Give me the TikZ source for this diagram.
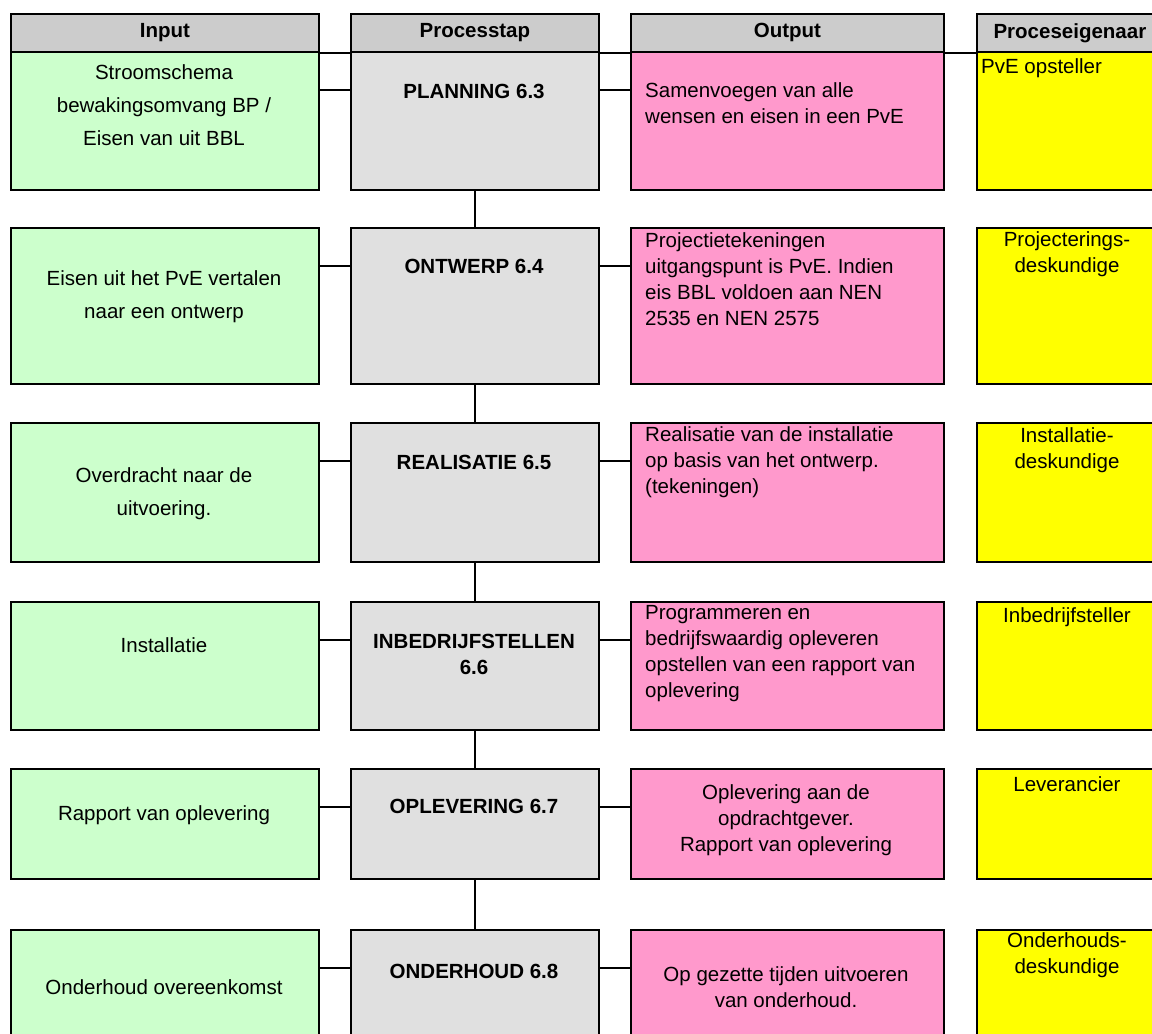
\documentclass[tikz,border=0pt]{standalone}
\usepackage{fontspec}
\setmainfont{Liberation Sans}
\usetikzlibrary{calc}
\definecolor{hdrgray}{HTML}{CCCCCC}
\definecolor{procgray}{HTML}{E0E0E0}
\definecolor{ingreen}{HTML}{CCFFCC}
\definecolor{outpink}{HTML}{FF99CC}
\definecolor{ownyellow}{HTML}{FFFF00}
\tikzset{
 cell/.style={draw=black, line width=1.8pt, rectangle, inner sep=0pt, anchor=north west},
 hdr/.style={cell, fill=hdrgray, minimum height=38pt},
 inb/.style={cell, fill=ingreen, minimum width=308pt},
 prb/.style={cell, fill=procgray, minimum width=248pt},
 outb/.style={cell, fill=outpink, minimum width=313pt},
 ownb/.style={cell, fill=ownyellow, minimum width=186pt},
 txt/.style={font=\fontsize{20.5}{26}\selectfont, inner sep=0pt, align=center},
 wtxt/.style={font=\fontsize{20.5}{33}\selectfont, inner sep=0pt, align=center},
 ltxt/.style={txt, align=left, anchor=west},
 btxt/.style={inner sep=0pt, align=center, font=\fontsize{20.5}{26}\selectfont\bfseries},
 conn/.style={line width=1.8pt},
}
\begin{document}
\begin{tikzpicture}[x=1pt,y=-1pt]
\useasboundingbox (0,0) rectangle (1152,1034);
\clip (0,0) rectangle (1152,1034);
% header cells
\node[hdr, minimum width=308pt] (hin) at (10,13) {};
\node[hdr, minimum width=248pt] (hpr) at (350,13) {};
\node[hdr, minimum width=313pt] (hout) at (630,13) {};
\node[hdr, minimum width=186pt] (hown) at (976,13) {};
\node[btxt] (thin) at (hin.center) {Input};
\node[btxt] (thpr) at (hpr.center) {Processtap};
\node[btxt] (thout) at (hout.center) {Output};
\node[btxt] (thown) at (hown.center) {Proceseigenaar};
% row 1
\node[inb, minimum height=138pt] (in1) at (10,51) {};
\node[prb, minimum height=138pt] (pr1) at (350,51) {};
\node[outb, minimum height=138pt] (out1) at (630,51) {};
\node[ownb, minimum height=138pt] (own1) at (976,51) {};
% row 2
\node[inb, minimum height=156pt] (in2) at (10,227) {};
\node[prb, minimum height=156pt] (pr2) at (350,227) {};
\node[outb, minimum height=156pt] (out2) at (630,227) {};
\node[ownb, minimum height=156pt] (own2) at (976,227) {};
% row 3
\node[inb, minimum height=139pt] (in3) at (10,422) {};
\node[prb, minimum height=139pt] (pr3) at (350,422) {};
\node[outb, minimum height=139pt] (out3) at (630,422) {};
\node[ownb, minimum height=139pt] (own3) at (976,422) {};
% row 4
\node[inb, minimum height=128pt] (in4) at (10,601) {};
\node[prb, minimum height=128pt] (pr4) at (350,601) {};
\node[outb, minimum height=128pt] (out4) at (630,601) {};
\node[ownb, minimum height=128pt] (own4) at (976,601) {};
% row 5
\node[inb, minimum height=110pt] (in5) at (10,768) {};
\node[prb, minimum height=110pt] (pr5) at (350,768) {};
\node[outb, minimum height=110pt] (out5) at (630,768) {};
\node[ownb, minimum height=110pt] (own5) at (976,768) {};
% row 6
\node[inb, minimum height=150pt] (in6) at (10,929) {};
\node[prb, minimum height=150pt] (pr6) at (350,929) {};
\node[outb, minimum height=150pt] (out6) at (630,929) {};
\node[ownb, minimum height=150pt] (own6) at (976,929) {};
% header gap lines
\draw[conn] (hin.south east) -- (hpr.south west);
\draw[conn] (hpr.south east) -- (hout.south west);
\draw[conn] (hout.south east) -- (hown.south west);
% horizontal connectors
\foreach \i in {1,...,6}{
 \draw[conn] ($(in\i.north east)+(0,39)$) -- ($(pr\i.north west)+(0,39)$);
 \draw[conn] ($(pr\i.north east)+(0,39)$) -- ($(out\i.north west)+(0,39)$);
}
% vertical connectors
\draw[conn] (pr1.south) -- (pr2.north);
\draw[conn] (pr2.south) -- (pr3.north);
\draw[conn] (pr3.south) -- (pr4.north);
\draw[conn] (pr4.south) -- (pr5.north);
\draw[conn] (pr5.south) -- (pr6.north);
% row 1 texts
\node[wtxt] (t1a) at (164,105) {Stroomschema\\bewakingsomvang BP /\\Eisen van uit BBL};
\node[btxt] (t1b) at (474,91) {PLANNING 6.3};
\node[ltxt] (t1c) at (645,103) {Samenvoegen van alle\\wensen en eisen in een PvE};
\node[ltxt] (t1d) at (981,68) {PvE opsteller};
% row 2 texts
\node[wtxt] (t2a) at (164,297) {Eisen uit het PvE vertalen\\naar een ontwerp};
\node[btxt] (t2b) at (474,266) {ONTWERP 6.4};
\node[ltxt] (t2c) at (645,279) {Projectietekeningen\\uitgangspunt is PvE. Indien\\eis BBL voldoen aan NEN\\2535 en NEN 2575};
\node[txt] (t2d) at (1067,254) {Projecterings-\\deskundige};
% row 3 texts
\node[wtxt] (t3a) at (164,494) {Overdracht naar de\\uitvoering.};
\node[btxt] (t3b) at (474,462) {REALISATIE 6.5};
\node[ltxt] (t3c) at (645,462) {Realisatie van de installatie\\op basis van het ontwerp.\\(tekeningen)};
\node[txt] (t3d) at (1067,450) {Installatie-\\deskundige};
% row 4 texts
\node[txt] (t4a) at (164,645) {Installatie};
\node[btxt] (t4b) at (474,654) {INBEDRIJFSTELLEN\\6.6};
\node[ltxt] (t4c) at (645,654) {Programmeren en\\bedrijfswaardig opleveren\\opstellen van een rapport van\\oplevering};
\node[txt] (t4d) at (1067,617) {Inbedrijfsteller};
% row 5 texts
\node[txt] (t5a) at (164,815) {Rapport van oplevering};
\node[btxt] (t5b) at (474,806) {OPLEVERING 6.7};
\node[txt] (t5c) at (786,820) {Oplevering aan de\\opdrachtgever.\\Rapport van oplevering};
\node[txt] (t5d) at (1067,784) {Leverancier};
% row 6 texts
\node[txt] (t6a) at (164,987) {Onderhoud overeenkomst};
\node[btxt] (t6b) at (474,971) {ONDERHOUD 6.8};
\node[txt] (t6c) at (786,987) {Op gezette tijden uitvoeren\\van onderhoud.};
\node[txt] (t6d) at (1067,955) {Onderhouds-\\deskundige};
\end{tikzpicture}
\end{document}
